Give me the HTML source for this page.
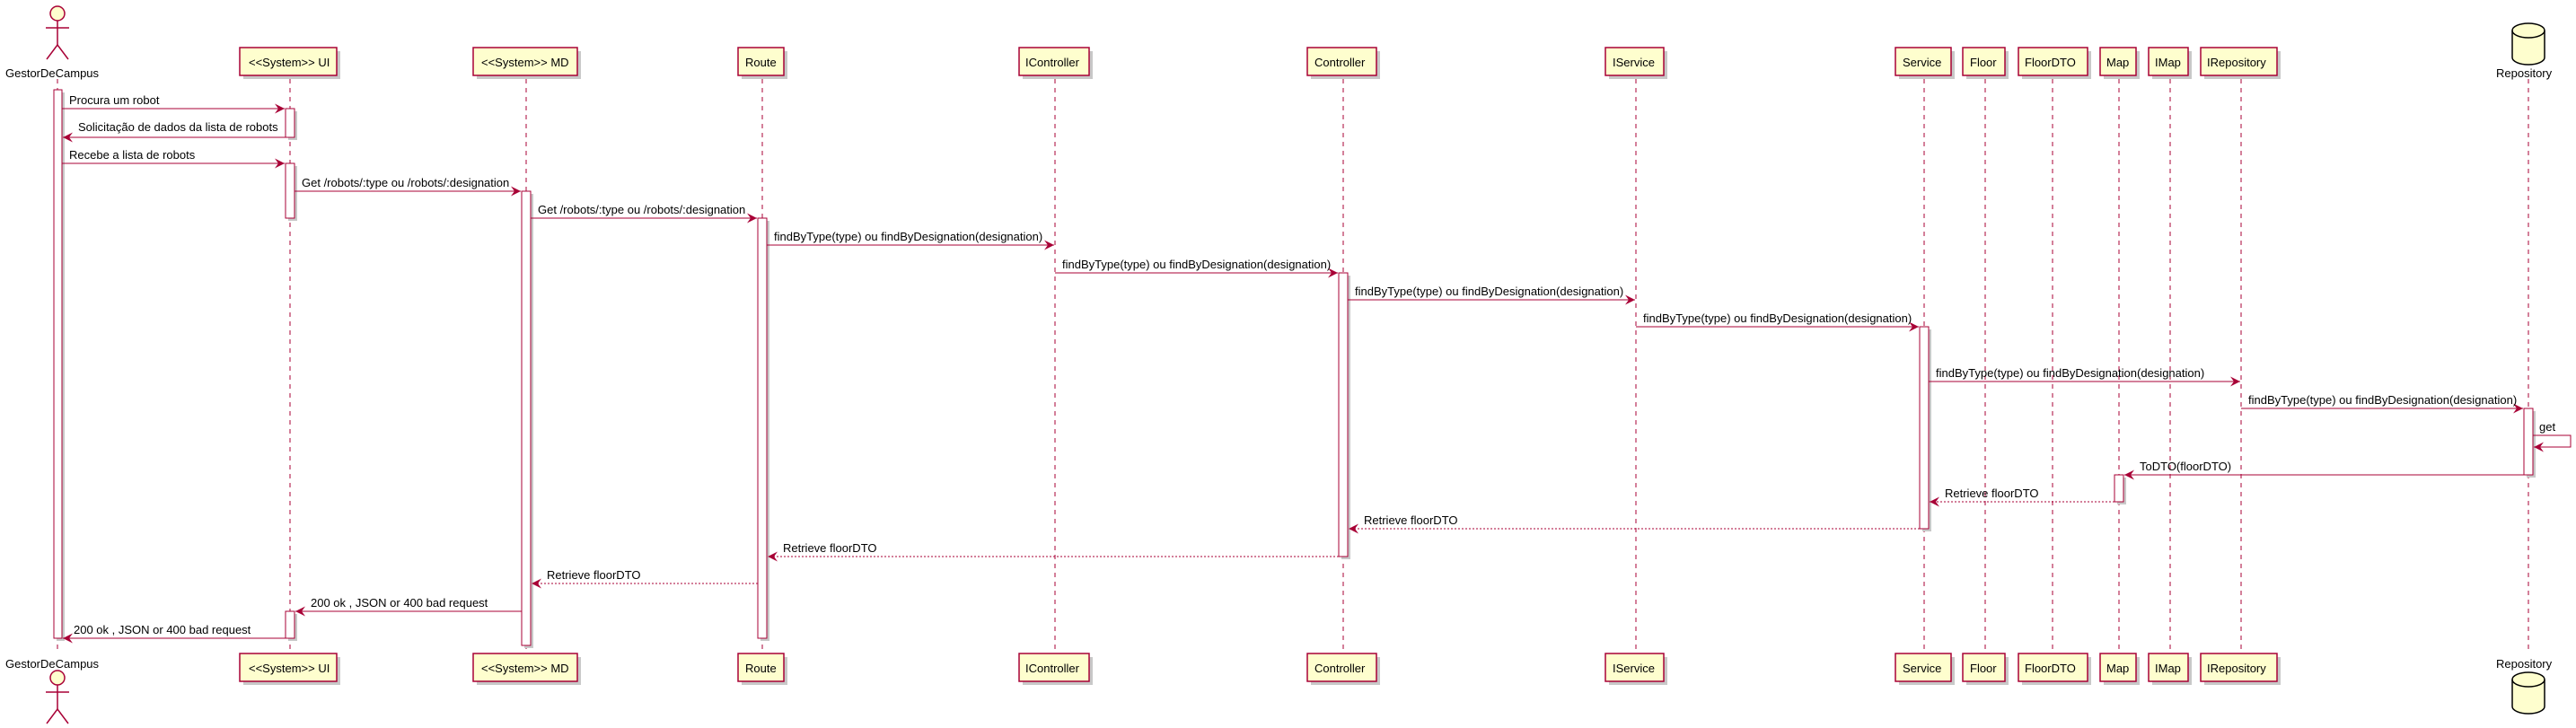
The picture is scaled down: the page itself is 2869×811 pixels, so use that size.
<!DOCTYPE html>
<html><head><meta charset="utf-8"><style>
html,body{margin:0;padding:0;background:#fff;width:2869px;height:811px;overflow:hidden}
text{font-family:"Liberation Sans",sans-serif;font-size:13px;fill:#000}
.ll{stroke:#A80036;stroke-width:1;stroke-dasharray:5,5}
.bx{fill:#FEFECE;stroke:#A80036;stroke-width:1.5}
.sh{fill:#c8c8c8}
.ac{fill:#fff;stroke:#A80036;stroke-width:1}
.m{stroke:#A80036;stroke-width:1;fill:none}
.d{stroke:#A80036;stroke-width:1;fill:none;stroke-dasharray:2,2}
</style></head><body>
<svg width="2869" height="811" viewBox="0 0 2869 811" xmlns="http://www.w3.org/2000/svg">
<defs>
<marker id="r" markerWidth="13" markerHeight="11" refX="11" refY="5.5" orient="auto" markerUnits="userSpaceOnUse"><path d="M0,0 L11,5.5 L0,11 L4,5.5 Z" fill="#A80036"/></marker>
</defs>
<g class="ll">
<line x1="64" y1="88" x2="64" y2="725"/>
<line x1="323" y1="88" x2="323" y2="725"/>
<line x1="586" y1="88" x2="586" y2="725"/>
<line x1="849" y1="88" x2="849" y2="725"/>
<line x1="1175" y1="88" x2="1175" y2="725"/>
<line x1="1496" y1="88" x2="1496" y2="725"/>
<line x1="1822" y1="88" x2="1822" y2="725"/>
<line x1="2143" y1="88" x2="2143" y2="725"/>
<line x1="2211" y1="88" x2="2211" y2="725"/>
<line x1="2286" y1="88" x2="2286" y2="725"/>
<line x1="2360" y1="88" x2="2360" y2="725"/>
<line x1="2417" y1="88" x2="2417" y2="725"/>
<line x1="2496" y1="88" x2="2496" y2="725"/>
<line x1="2816" y1="88" x2="2816" y2="725"/>
</g>
<g>
<rect class="sh" x="271" y="57" width="108" height="31"/><rect class="bx" x="267" y="53" width="108" height="31"/><text x="277" y="74">&lt;&lt;System&gt;&gt; UI</text>
<rect class="sh" x="531" y="57" width="116" height="31"/><rect class="bx" x="527" y="53" width="116" height="31"/><text x="536" y="74">&lt;&lt;System&gt;&gt; MD</text>
<rect class="sh" x="826" y="57" width="51" height="31"/><rect class="bx" x="822" y="53" width="51" height="31"/><text x="830" y="74">Route</text>
<rect class="sh" x="1139" y="57" width="78" height="31"/><rect class="bx" x="1135" y="53" width="78" height="31"/><text x="1142" y="74">IController</text>
<rect class="sh" x="1460" y="57" width="77" height="31"/><rect class="bx" x="1456" y="53" width="77" height="31"/><text x="1464" y="74">Controller</text>
<rect class="sh" x="1792" y="57" width="65" height="31"/><rect class="bx" x="1788" y="53" width="65" height="31"/><text x="1796" y="74">IService</text>
<rect class="sh" x="2115" y="57" width="62" height="31"/><rect class="bx" x="2111" y="53" width="62" height="31"/><text x="2119" y="74">Service</text>
<rect class="sh" x="2190" y="57" width="47" height="31"/><rect class="bx" x="2186" y="53" width="47" height="31"/><text x="2194" y="74">Floor</text>
<rect class="sh" x="2252" y="57" width="77" height="31"/><rect class="bx" x="2248" y="53" width="77" height="31"/><text x="2255" y="74">FloorDTO</text>
<rect class="sh" x="2343" y="57" width="40" height="31"/><rect class="bx" x="2339" y="53" width="40" height="31"/><text x="2346" y="74">Map</text>
<rect class="sh" x="2397" y="57" width="44" height="31"/><rect class="bx" x="2393" y="53" width="44" height="31"/><text x="2400" y="74">IMap</text>
<rect class="sh" x="2455" y="57" width="85" height="31"/><rect class="bx" x="2451" y="53" width="85" height="31"/><text x="2458" y="74">IRepository</text>

<rect class="sh" x="271" y="732" width="108" height="31"/><rect class="bx" x="267" y="728" width="108" height="31"/><text x="277" y="749">&lt;&lt;System&gt;&gt; UI</text>
<rect class="sh" x="531" y="732" width="116" height="31"/><rect class="bx" x="527" y="728" width="116" height="31"/><text x="536" y="749">&lt;&lt;System&gt;&gt; MD</text>
<rect class="sh" x="826" y="732" width="51" height="31"/><rect class="bx" x="822" y="728" width="51" height="31"/><text x="830" y="749">Route</text>
<rect class="sh" x="1139" y="732" width="78" height="31"/><rect class="bx" x="1135" y="728" width="78" height="31"/><text x="1142" y="749">IController</text>
<rect class="sh" x="1460" y="732" width="77" height="31"/><rect class="bx" x="1456" y="728" width="77" height="31"/><text x="1464" y="749">Controller</text>
<rect class="sh" x="1792" y="732" width="65" height="31"/><rect class="bx" x="1788" y="728" width="65" height="31"/><text x="1796" y="749">IService</text>
<rect class="sh" x="2115" y="732" width="62" height="31"/><rect class="bx" x="2111" y="728" width="62" height="31"/><text x="2119" y="749">Service</text>
<rect class="sh" x="2190" y="732" width="47" height="31"/><rect class="bx" x="2186" y="728" width="47" height="31"/><text x="2194" y="749">Floor</text>
<rect class="sh" x="2252" y="732" width="77" height="31"/><rect class="bx" x="2248" y="728" width="77" height="31"/><text x="2255" y="749">FloorDTO</text>
<rect class="sh" x="2343" y="732" width="40" height="31"/><rect class="bx" x="2339" y="728" width="40" height="31"/><text x="2346" y="749">Map</text>
<rect class="sh" x="2397" y="732" width="44" height="31"/><rect class="bx" x="2393" y="728" width="44" height="31"/><text x="2400" y="749">IMap</text>
<rect class="sh" x="2455" y="732" width="85" height="31"/><rect class="bx" x="2451" y="728" width="85" height="31"/><text x="2458" y="749">IRepository</text>
</g>
<g stroke="#A80036" stroke-width="1.5" fill="none">
<ellipse cx="64" cy="15" rx="8" ry="8" fill="#FEFECE"/>
<line x1="64" y1="23" x2="64" y2="50"/><line x1="51" y1="31" x2="77" y2="31"/>
<line x1="64" y1="50" x2="52" y2="66"/><line x1="64" y1="50" x2="76" y2="66"/>
<ellipse cx="64" cy="755" rx="8" ry="8" fill="#FEFECE"/>
<line x1="64" y1="763" x2="64" y2="790"/><line x1="51" y1="771" x2="77" y2="771"/>
<line x1="64" y1="790" x2="52" y2="806"/><line x1="64" y1="790" x2="76" y2="806"/>
</g>
<text x="6" y="86">GestorDeCampus</text>
<text x="6" y="744">GestorDeCampus</text>
<g stroke="#000" stroke-width="1.5">
<path d="M2798,34 a18,8 0 0 1 36,0 v30 a18,8 0 0 1 -36,0 Z" fill="#FEFECE"/>
<path d="M2798,34 a18,8 0 0 0 36,0" fill="none"/>
<path d="M2798,757 a18,8 0 0 1 36,0 v30 a18,8 0 0 1 -36,0 Z" fill="#FEFECE"/>
<path d="M2798,757 a18,8 0 0 0 36,0" fill="none"/>
</g>
<text x="2780" y="86">Repository</text>
<text x="2780" y="744">Repository</text>
<rect class="sh" x="63" y="103" width="9" height="611"/><rect class="ac" x="60" y="100" width="9" height="611"/>
<rect class="sh" x="321" y="124" width="10" height="32"/><rect class="ac" x="318" y="121" width="10" height="32"/>
<rect class="sh" x="321" y="185" width="10" height="61"/><rect class="ac" x="318" y="182" width="10" height="61"/>
<rect class="sh" x="321" y="684" width="10" height="30"/><rect class="ac" x="318" y="681" width="10" height="30"/>
<rect class="sh" x="584" y="216" width="10" height="506"/><rect class="ac" x="581" y="213" width="10" height="506"/>
<rect class="sh" x="847" y="246" width="10" height="468"/><rect class="ac" x="844" y="243" width="10" height="468"/>
<rect class="sh" x="1494" y="307" width="10" height="316"/><rect class="ac" x="1491" y="304" width="10" height="316"/>
<rect class="sh" x="2141" y="367" width="10" height="225"/><rect class="ac" x="2138" y="364" width="10" height="225"/>
<rect class="sh" x="2358" y="532" width="10" height="30"/><rect class="ac" x="2355" y="529" width="10" height="30"/>
<rect class="sh" x="2814" y="458" width="10" height="74"/><rect class="ac" x="2811" y="455" width="10" height="74"/>
<g>
<line class="m" x1="69" y1="121" x2="317" y2="121" marker-end="url(#r)"/><text x="77" y="116">Procura um robot</text>
<line class="m" x1="318" y1="153" x2="70" y2="153" marker-end="url(#r)"/><text x="87" y="146">Solicitação de dados da lista de robots</text>
<line class="m" x1="69" y1="182" x2="317" y2="182" marker-end="url(#r)"/><text x="77" y="177">Recebe a lista de robots</text>
<line class="m" x1="328" y1="213" x2="580" y2="213" marker-end="url(#r)"/><text x="336" y="208">Get /robots/:type ou /robots/:designation</text>
<line class="m" x1="591" y1="243" x2="843" y2="243" marker-end="url(#r)"/><text x="599" y="238">Get /robots/:type ou /robots/:designation</text>
<line class="m" x1="854" y1="273" x2="1174" y2="273" marker-end="url(#r)"/><text x="862" y="268">findByType(type) ou findByDesignation(designation)</text>
<line class="m" x1="1175" y1="304" x2="1490" y2="304" marker-end="url(#r)"/><text x="1183" y="299">findByType(type) ou findByDesignation(designation)</text>
<line class="m" x1="1501" y1="334" x2="1821" y2="334" marker-end="url(#r)"/><text x="1509" y="329">findByType(type) ou findByDesignation(designation)</text>
<line class="m" x1="1822" y1="364" x2="2137" y2="364" marker-end="url(#r)"/><text x="1830" y="359">findByType(type) ou findByDesignation(designation)</text>
<line class="m" x1="2148" y1="425" x2="2495" y2="425" marker-end="url(#r)"/><text x="2156" y="420">findByType(type) ou findByDesignation(designation)</text>
<line class="m" x1="2496" y1="455" x2="2810" y2="455" marker-end="url(#r)"/><text x="2504" y="450">findByType(type) ou findByDesignation(designation)</text>
<polyline class="m" points="2821,485 2863,485 2863,498 2822,498" marker-end="url(#r)"/><text x="2828" y="480">get</text>
<line class="m" x1="2811" y1="529" x2="2366" y2="529" marker-end="url(#r)"/><text x="2383" y="524">ToDTO(floorDTO)</text>
<line class="d" x1="2355" y1="559" x2="2149" y2="559" marker-end="url(#r)"/><text x="2166" y="554">Retrieve floorDTO</text>
<line class="d" x1="2138" y1="589" x2="1502" y2="589" marker-end="url(#r)"/><text x="1519" y="584">Retrieve floorDTO</text>
<line class="d" x1="1491" y1="620" x2="855" y2="620" marker-end="url(#r)"/><text x="872" y="615">Retrieve floorDTO</text>
<line class="d" x1="844" y1="650" x2="592" y2="650" marker-end="url(#r)"/><text x="609" y="645">Retrieve floorDTO</text>
<line class="m" x1="581" y1="681" x2="329" y2="681" marker-end="url(#r)"/><text x="346" y="676">200 ok , JSON or 400 bad request</text>
<line class="m" x1="318" y1="711" x2="70" y2="711" marker-end="url(#r)"/><text x="82" y="706">200 ok , JSON or 400 bad request</text>
</g>
</svg>
</body></html>
